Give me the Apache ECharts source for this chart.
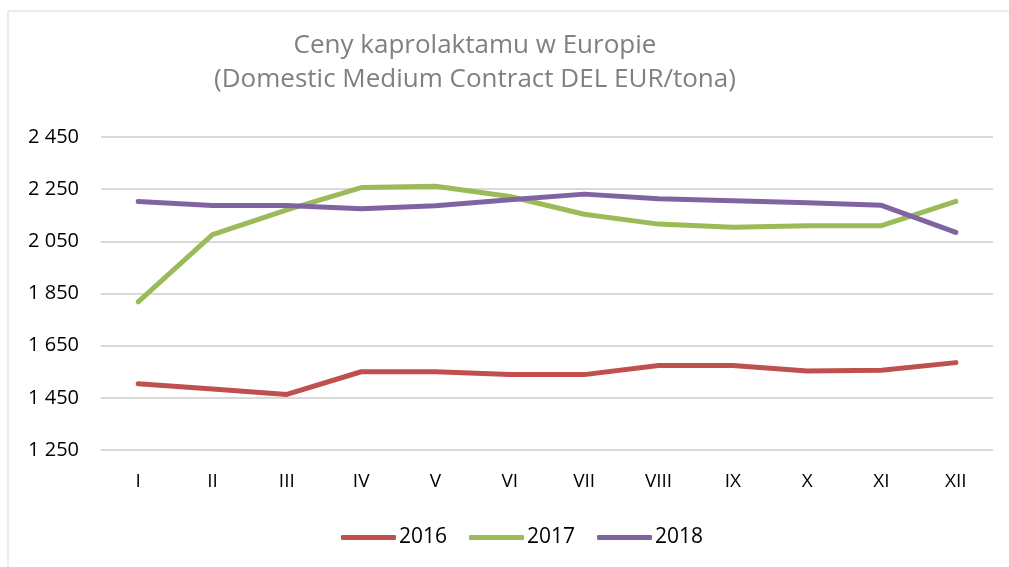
<!DOCTYPE html>
<html>
<head>
<meta charset="utf-8">
<script src="https://cdn.jsdelivr.net/npm/echarts@6/dist/echarts.min.js"></script>
<style>
  html, body { margin: 0; padding: 0; background: #fff; }
  #chart { width: 1009px; height: 567px; }
</style>
</head>
<body>
<div id="chart"></div>
<script>
const months = ['I', 'II', 'III', 'IV', 'V', 'VI', 'VII', 'VIII', 'IX', 'X', 'XI', 'XII']
const prices2016 = [1504, 1484, 1463, 1550, 1550, 1539, 1539, 1574, 1574, 1553, 1556, 1585]
const prices2017 = [1818, 2076, 2171, 2256, 2261, 2222, 2154, 2116, 2104, 2110, 2110, 2203]
const prices2018 = [2203, 2187, 2187, 2175, 2186, 2209, 2231, 2213, 2206, 2198, 2188, 2084]

const seriesDefs = [
  { name: '2016', data: prices2016, color: '#C0504D' },
  { name: '2017', data: prices2017, color: '#9BBB59' },
  { name: '2018', data: prices2018, color: '#8064A2' }
]

const font = '"Open Sans", "Noto Sans", sans-serif'
const chart = echarts.init(document.getElementById('chart'))

chart.setOption({
  animation: false,
  textStyle: { fontFamily: font },
  graphic: [{
    type: 'rect',
    shape: { x: 8, y: 11, width: 1100, height: 700 },
    style: { fill: 'none', stroke: '#d9d9d9', lineWidth: 1 },
    silent: true
  }],
  title: {
    text: 'Ceny kaprolaktamu w Europie\n(Domestic Medium Contract DEL EUR/tona)',
    left: 470,
    top: 24,
    textAlign: 'center',
    textStyle: {
      fontFamily: font,
      fontSize: 26,
      fontWeight: 'normal',
      color: '#808080',
      lineHeight: 34
    }
  },
  legend: {
    data: seriesDefs.map(s => s.name),
    left: 336,
    top: 522,
    itemWidth: 55,
    itemHeight: 5,
    itemGap: 22,
    icon: 'roundRect',
    textStyle: { fontFamily: font, fontSize: 21, color: '#000', padding: [0, 0, 0, -2] }
  },
  grid: { left: 101, right: 16, top: 137, bottom: 117 },
  xAxis: {
    type: 'category',
    data: months,
    boundaryGap: true,
    axisLine: { show: false },
    axisTick: { show: false },
    axisLabel: { fontSize: 19, color: '#000', margin: 22 }
  },
  yAxis: {
    type: 'value',
    min: 1250,
    max: 2450,
    interval: 200,
    axisLine: { show: false },
    axisTick: { show: false },
    axisLabel: {
      fontSize: 20,
      color: '#000',
      margin: 22,
      formatter: v => v.toLocaleString('en-US').replace(',', ' ')
    },
    splitLine: { lineStyle: { color: '#d9d9d9', width: 2 } }
  },
  series: seriesDefs.map(s => ({
    name: s.name,
    type: 'line',
    data: s.data,
    symbol: 'none',
    lineStyle: { color: s.color, width: 5, cap: 'round', join: 'round' },
    itemStyle: { color: s.color }
  }))
})
</script>
</body>
</html>
